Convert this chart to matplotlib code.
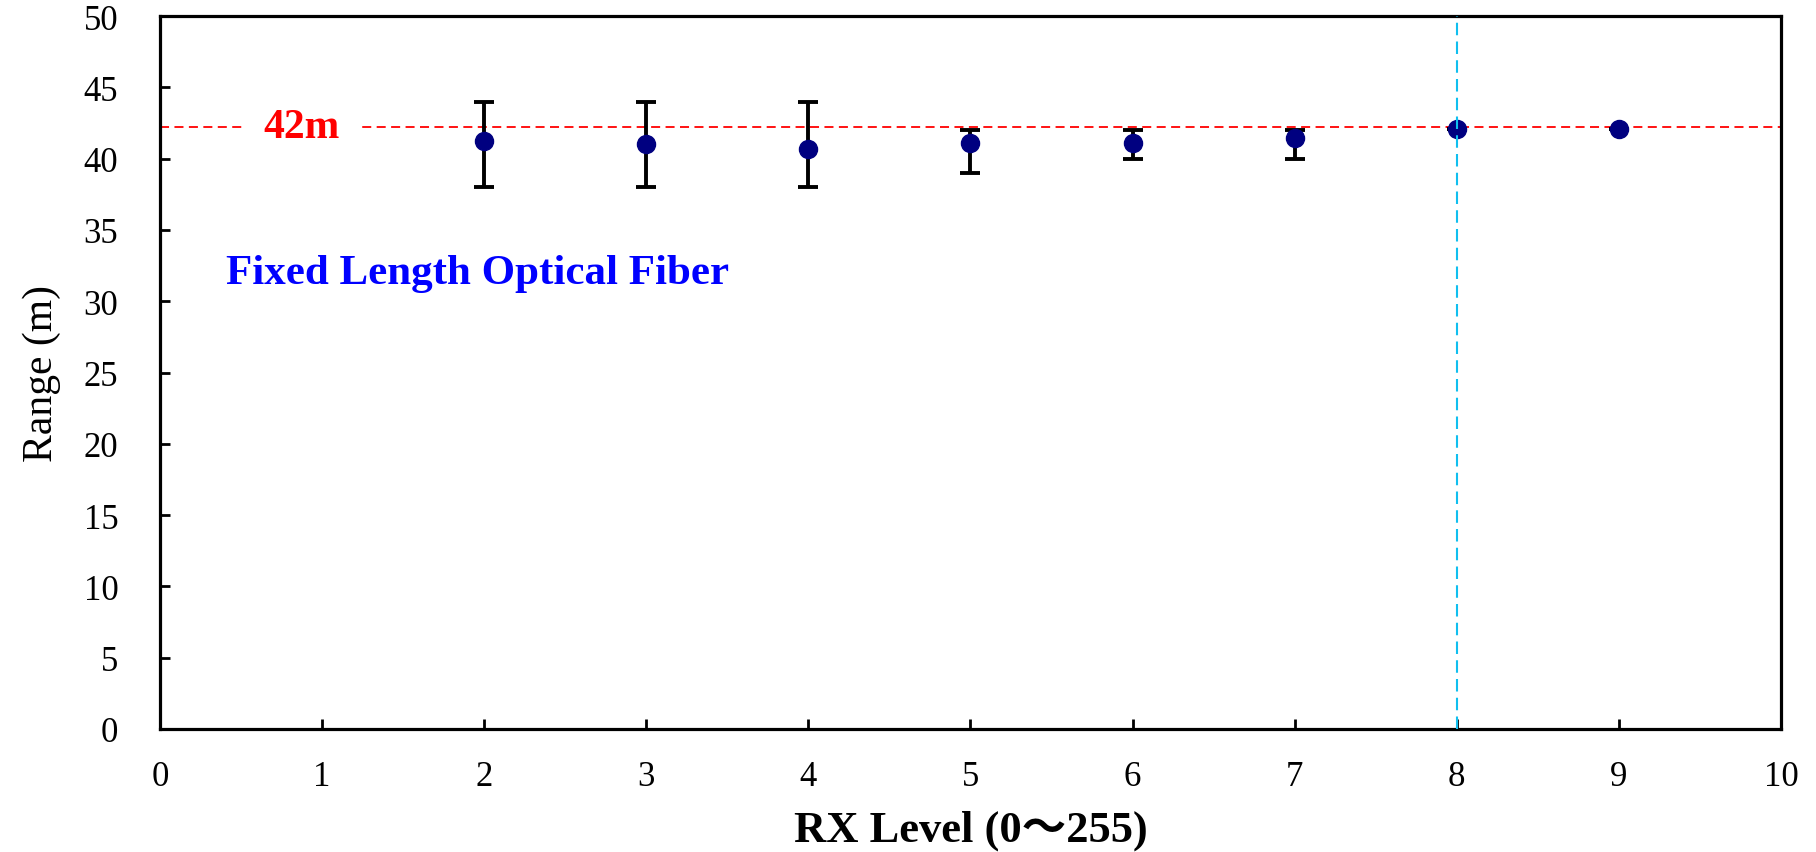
import numpy as np
import matplotlib.pyplot as plt

plt.rcParams['font.family'] = ['Liberation Serif', 'Noto Sans CJK JP', 'DejaVu Sans']

# data
rx_level = [2, 3, 4, 5, 6, 7, 8, 9]
range_mean = [41.25, 41.0, 40.7, 41.1, 41.1, 41.45, 42.05, 42.05]
range_min = [38, 38, 38, 39, 40, 40, 42.05, 42.05]
range_max = [44, 44, 44, 42, 42, 42, 42.05, 42.05]
fixed_length = 42.25
mark_level = 8

mean = np.array(range_mean)
yerr = [mean - np.array(range_min), np.array(range_max) - mean]

fig = plt.figure(figsize=(18.16, 8.53), dpi=100)
ax = fig.add_axes([0.0881, 0.1442, 0.8926, 0.8358])

ax.axhline(fixed_length, color='red', lw=1.3, ls=(0, (5, 3)), zorder=1)
ax.errorbar(rx_level, mean, yerr=yerr, fmt='o', color='#000080', ecolor='black',
            elinewidth=2.8, capsize=7, capthick=2.8, markersize=13, zorder=3)
ax.axvline(mark_level, color='#10BFEF', lw=1.5, ls=(0, (6, 3)), zorder=4)

ax.text(0.873, fixed_length, '42m', color='red', fontsize=30, fontweight='bold',
        ha='center', va='center', zorder=2,
        bbox=dict(facecolor='white', edgecolor='none', pad=15))
ax.text(0.41, 32, 'Fixed Length Optical Fiber', color='blue', fontsize=31,
        fontweight='bold', ha='left', va='center')

ax.set_xlim(0, 10)
ax.set_ylim(0, 50)
ax.set_xticks(range(0, 11))
ax.set_yticks(range(0, 51, 5))

for s in ax.spines.values():
    s.set_linewidth(2.3)
ax.tick_params(axis='both', direction='in', length=7, width=2, labelsize=25)
ax.tick_params(axis='y', pad=30)
ax.tick_params(axis='x', pad=22)

ax.set_xlabel('RX Level (0〜255)', fontsize=32, fontweight='bold', labelpad=12)
ax.set_ylabel('Range (m)', fontsize=30, labelpad=16)

fig.savefig('out.png', dpi=100)
